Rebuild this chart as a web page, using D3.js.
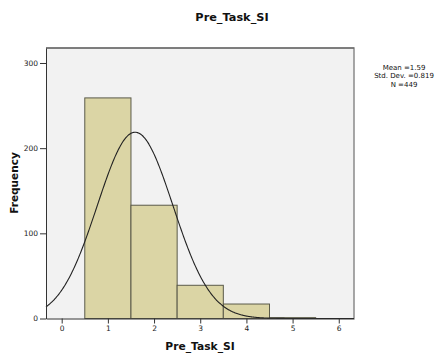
<!DOCTYPE html>
<html>
<head>
<meta charset="utf-8">
<script src="https://cdn.jsdelivr.net/npm/d3@7"></script>
<style>
  html, body { margin: 0; padding: 0; background: #fff; }
  svg { display: block; font-family: "DejaVu Sans", sans-serif; }
</style>
</head>
<body>
<svg id="chart" width="444" height="354"></svg>
<script>
// Histogram of Pre_Task_SI with a fitted normal curve
const binCenters = [1, 2, 3, 4, 5];
const frequencies = [259, 133, 39, 17, 1];
const xTicks = [0, 1, 2, 3, 4, 5, 6];
const yTicks = [0, 100, 200, 300];
const statLines = ["Mean =1.59", "Std. Dev. =0.819", "N =449"];
const mean = 1.59, sd = 0.819, n = 449, binWidth = 1;

const svg = d3.select("#chart");
const plot = { left: 46, top: 48, right: 354, bottom: 318.5 };

const x = d3.scaleLinear().domain([-0.34, 6.33]).range([plot.left, plot.right]);
const y = d3.scaleLinear().domain([0, 317.6]).range([plot.bottom, plot.top]);

// plot background and frame
svg.append("rect")
  .attr("x", plot.left).attr("y", plot.top)
  .attr("width", plot.right - plot.left).attr("height", plot.bottom - plot.top)
  .attr("fill", "#f2f2f2");
svg.append("path")
  .attr("d", `M${plot.left},${plot.top}H${plot.right}V${plot.bottom}`)
  .attr("fill", "none").attr("stroke", "#8a8a8a").attr("stroke-width", 1.5);
svg.append("line")
  .attr("x1", plot.left).attr("x2", plot.right)
  .attr("y1", plot.top).attr("y2", plot.top)
  .attr("stroke", "#555").attr("stroke-width", 1);

// bars
svg.append("g").selectAll("rect")
  .data(binCenters)
  .join("rect")
  .attr("x", (d) => x(d - binWidth / 2))
  .attr("width", (d) => x(d + binWidth / 2) - x(d - binWidth / 2))
  .attr("y", (d, i) => y(frequencies[i]))
  .attr("height", (d, i) => y(0) - y(frequencies[i]))
  .attr("fill", "#dbd5a5")
  .attr("stroke", "#5a5a4a")
  .attr("stroke-width", 1);

// normal curve scaled to counts
const normal = (v) => n * binWidth * Math.exp(-0.5 * ((v - mean) / sd) ** 2) / (sd * Math.sqrt(2 * Math.PI));
const xs = d3.range(0, 401).map((i) => x.domain()[0] + (x.domain()[1] - x.domain()[0]) * i / 400);
svg.append("path")
  .datum(xs)
  .attr("fill", "none")
  .attr("stroke", "#222")
  .attr("stroke-width", 1.1)
  .attr("d", d3.line().x((d) => x(d)).y((d) => y(normal(d))).curve(d3.curveBasis));

// axes
const xAxis = svg.append("g")
  .attr("transform", `translate(0,${plot.bottom})`)
  .call(d3.axisBottom(x).tickValues(xTicks).tickFormat(d3.format("d"))
    .tickSize(5).tickSizeOuter(0).tickPadding(2));
const yAxis = svg.append("g")
  .attr("transform", `translate(${plot.left},0)`)
  .call(d3.axisLeft(y).tickValues(yTicks).tickFormat(d3.format("d"))
    .tickSize(6).tickSizeOuter(0).tickPadding(2));
[xAxis, yAxis].forEach((g) => {
  g.select(".domain").attr("stroke", "#333");
  g.selectAll(".tick line").attr("stroke", "#333");
  g.selectAll(".tick text").attr("fill", "#222").style("font-size", "7.5px")
    .style("font-family", "DejaVu Sans, sans-serif");
});

// titles
svg.append("text")
  .attr("x", 232).attr("y", 20.5)
  .attr("text-anchor", "middle")
  .style("font-size", "11.3px").style("font-weight", "bold")
  .attr("fill", "#111")
  .text("Pre_Task_SI");
svg.append("text")
  .attr("x", (plot.left + plot.right) / 2).attr("y", 350)
  .attr("text-anchor", "middle")
  .style("font-size", "10.7px").style("font-weight", "bold")
  .attr("fill", "#111")
  .text("Pre_Task_SI");
svg.append("text")
  .attr("transform", `translate(17.5,183) rotate(-90)`)
  .attr("text-anchor", "middle")
  .style("font-size", "10.5px").style("font-weight", "bold")
  .attr("fill", "#111")
  .text("Frequency");

// summary statistics
svg.append("g").selectAll("text")
  .data(statLines)
  .join("text")
  .attr("x", 404)
  .attr("y", (d, i) => 69.5 + i * 8.6)
  .attr("text-anchor", "middle")
  .style("font-size", "7px")
  .attr("fill", "#111")
  .text((d) => d);
</script>
</body>
</html>
